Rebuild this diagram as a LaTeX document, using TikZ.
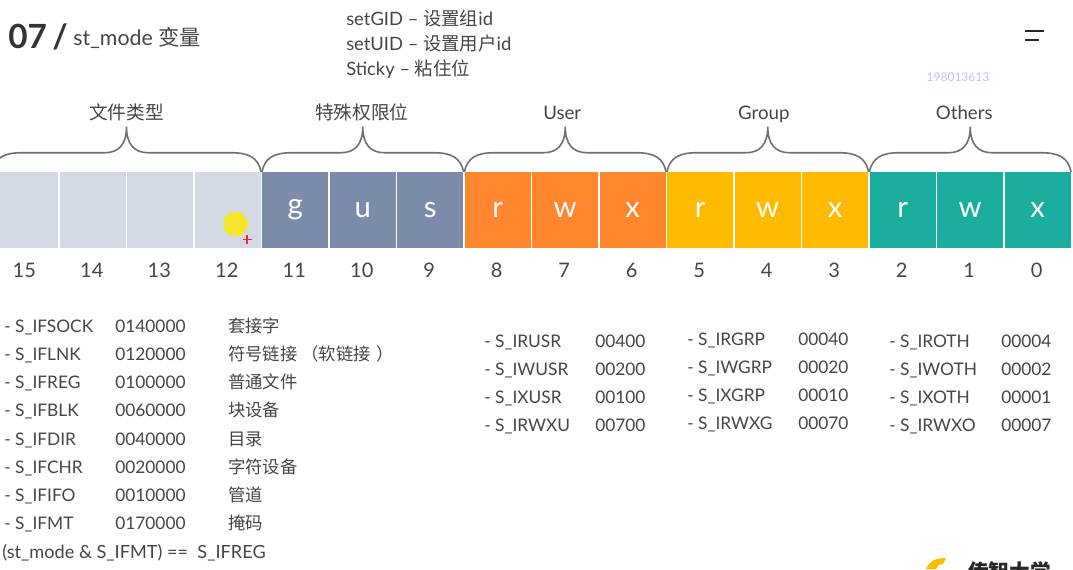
\documentclass[tikz,border=0pt]{standalone}
\usepackage{fontspec}
\setmainfont{Lato}
\newfontfamily\cjk{Noto Sans CJK SC}
\usetikzlibrary{calc}
\definecolor{txtgray}{HTML}{454545}
\definecolor{bracegray}{HTML}{707070}
\definecolor{bitpale}{HTML}{D3D9E5}
\definecolor{bitslate}{HTML}{7B8CAB}
\definecolor{bitorange}{HTML}{FF862D}
\definecolor{bitamber}{HTML}{FFBA00}
\definecolor{bitteal}{HTML}{1BAD9E}
\definecolor{dotyellow}{HTML}{F5E62C}
\definecolor{plusred}{HTML}{EE2A24}
\tikzset{
  bitcell/.style={minimum width=49.6pt,minimum height=57pt,inner sep=0pt,text=white,font=\fontsize{22}{24}\selectfont},
  bitnum/.style={text=txtgray,font=\fontsize{15}{18}\selectfont,inner sep=0pt},
  grouplabel/.style={text=txtgray,font=\fontsize{14}{16}\selectfont,inner sep=0pt,text height=12pt,text depth=1pt},
  rowtxt/.style={text=txtgray,anchor=west,inner sep=0pt,text height=12pt,text depth=1pt,font=\fontsize{13}{15}\selectfont},
  toptxt/.style={rowtxt,font=\fontsize{13.8}{16}\selectfont},
  bracepath/.style={draw=bracegray,line width=1.2pt}
}
\newcommand{\zh}[1]{{\cjk #1}}
% llave de un grupo de bits
\newcommand{\groupbrace}[3]{%
  \coordinate (L) at (#1.north west); \coordinate (R) at (#2.north east);
  \coordinate (M) at ($(L)!0.5!(R)$);
  \draw[bracepath] (L) .. controls ($(L)+(3,-14)$) and ($(L)+(12,-19)$) .. ($(L)+(30,-19)$)
    -- ($(M)+(-22,-19)$) .. controls ($(M)+(-8,-19)$) and ($(M)+(0,-27)$) .. ($(M)+(0,-45)$)
    .. controls ($(M)+(0,-27)$) and ($(M)+(8,-19)$) .. ($(M)+(22,-19)$)
    -- ($(R)+(-30,-19)$) .. controls ($(R)+(-12,-19)$) and ($(R)+(-3,-14)$) .. (R);
  \coordinate (#3) at ($(M)+(0,-60)$);
}
\begin{document}
\begin{tikzpicture}[x=0.75pt,y=-0.75pt]
  \useasboundingbox (0,0) rectangle (1073,569);
  \clip (0,0) rectangle (1073,569);
  % titulo
  \node[anchor=west,inner sep=0pt,text=black!80,font=\fontsize{25}{28}\bfseries\selectfont] (num) at (8,37) {07\,/};
  \node[anchor=west,inner sep=0pt,text=txtgray,font=\fontsize{16}{20}\selectfont] (title) at (73,38) {st\_mode \zh{变量}};
  \node[toptxt] (setgid) at (346,18) {setGID – \zh{设置组}id};
  \node[toptxt] (setuid) at (346,43) {setUID – \zh{设置用户}id};
  \node[toptxt] (sticky) at (346,68) {Sticky – \zh{粘住位}};
  \coordinate (menuA) at (1025,31); \coordinate (menuB) at (1044,31);
  \coordinate (menuC) at (1025,40); \coordinate (menuD) at (1039,40);
  \draw[line width=1.2pt,black!85] (menuA)--(menuB) (menuC)--(menuD);
  \node[inner sep=0pt,text=blue!25!white,font=\fontsize{9}{10}\selectfont] (mark) at (958,77) {198013613};
  % celdas de bits
  \foreach \b/\col/\txt in {15/bitpale/,14/bitpale/,13/bitpale/,12/bitpale/,11/bitslate/g,10/bitslate/u,9/bitslate/s,
    8/bitorange/r,7/bitorange/w,6/bitorange/x,5/bitamber/r,4/bitamber/w,3/bitamber/x,2/bitteal/r,1/bitteal/w,0/bitteal/x}{
    \pgfmathsetmacro{\cx}{25.25+67.5*(15-\b)}
    \node[bitcell,fill=\col] (b\b) at (\cx,210) {\txt};
    \node[bitnum] (n\b) at (\cx-1,270) {\b};
  }
  % llaves
  \groupbrace{b15}{b12}{gtype}
  \groupbrace{b11}{b9}{gspec}
  \groupbrace{b8}{b6}{guser}
  \groupbrace{b5}{b3}{ggroup}
  \groupbrace{b2}{b0}{gother}
  \node[grouplabel] (ltype) at (gtype) {\zh{文件类型}};
  \node[grouplabel] (lspec) at ($(gspec)+(-1,0)$) {\zh{特殊权限位}};
  \node[grouplabel] (luser) at ($(guser)+(-3,0)$) {User};
  \node[grouplabel] (lgroup) at ($(ggroup)+(-4,0)$) {Group};
  \node[grouplabel] (lother) at ($(gother)+(-6,0)$) {Others};
  % puntero
  \fill[dotyellow] (235.5,224) circle (12.5);
  \draw[plusred,line width=1.4pt] (242.5,239.5)--(251.5,239.5) (247,235)--(247,244);
  % tabla de tipos
  \foreach \i/\nm/\val/\zhtxt in {0/SOCK/0140000/套接字,1/LNK/0120000/符号链接\hspace{3pt}（软链接\hspace{4pt}）,2/REG/0100000/普通文件,3/BLK/0060000/块设备,
    4/DIR/0040000/目录,5/CHR/0020000/字符设备,6/IFO/0010000/管道,7/MT/0170000/掩码}{
    \node[rowtxt] (t\i) at (4,325+28.2*\i) {- S\_IF\nm};
    \node[rowtxt] (v\i) at (115,325+28.2*\i) {\val};
    \node[rowtxt] (z\i) at (228,325+28.2*\i) {\zh{\zhtxt}};
  }
  \node[rowtxt,font=\fontsize{13.6}{15}\selectfont] (test) at (2,551) {(st\_mode \& S\_IFMT) ==\ \ S\_IFREG};
  % permisos
  \foreach \i/\nm/\val in {0/IRUSR/00400,1/IWUSR/00200,2/IXUSR/00100,3/IRWXU/00700}{
    \node[rowtxt] (u\i) at (484,340+28*\i) {- S\_\nm};
    \node[rowtxt] (uv\i) at (595,340+28*\i) {\val};
  }
  \foreach \i/\nm/\val in {0/IRGRP/00040,1/IWGRP/00020,2/IXGRP/00010,3/IRWXG/00070}{
    \node[rowtxt] (g\i) at (687,338+28*\i) {- S\_\nm};
    \node[rowtxt] (gv\i) at (798,338+28*\i) {\val};
  }
  \foreach \i/\nm/\val in {0/IROTH/00004,1/IWOTH/00002,2/IXOTH/00001,3/IRWXO/00007}{
    \node[rowtxt] (o\i) at (889,340+28*\i) {- S\_\nm};
    \node[rowtxt] (ov\i) at (1001,340+28*\i) {\val};
  }
  % logo cortado abajo
  \fill[bitamber] (926,569) .. controls (929,562) and (934,558) .. (946,558) -- (943,564)
    .. controls (939,564) and (937,566) .. (936,569) -- cycle;
  \node[anchor=west,inner sep=0pt,text=black!85,font=\fontsize{15.5}{18}\selectfont] (logo) at (968,572) {\cjk\bfseries 传智大学};
\end{tikzpicture}
\end{document}
